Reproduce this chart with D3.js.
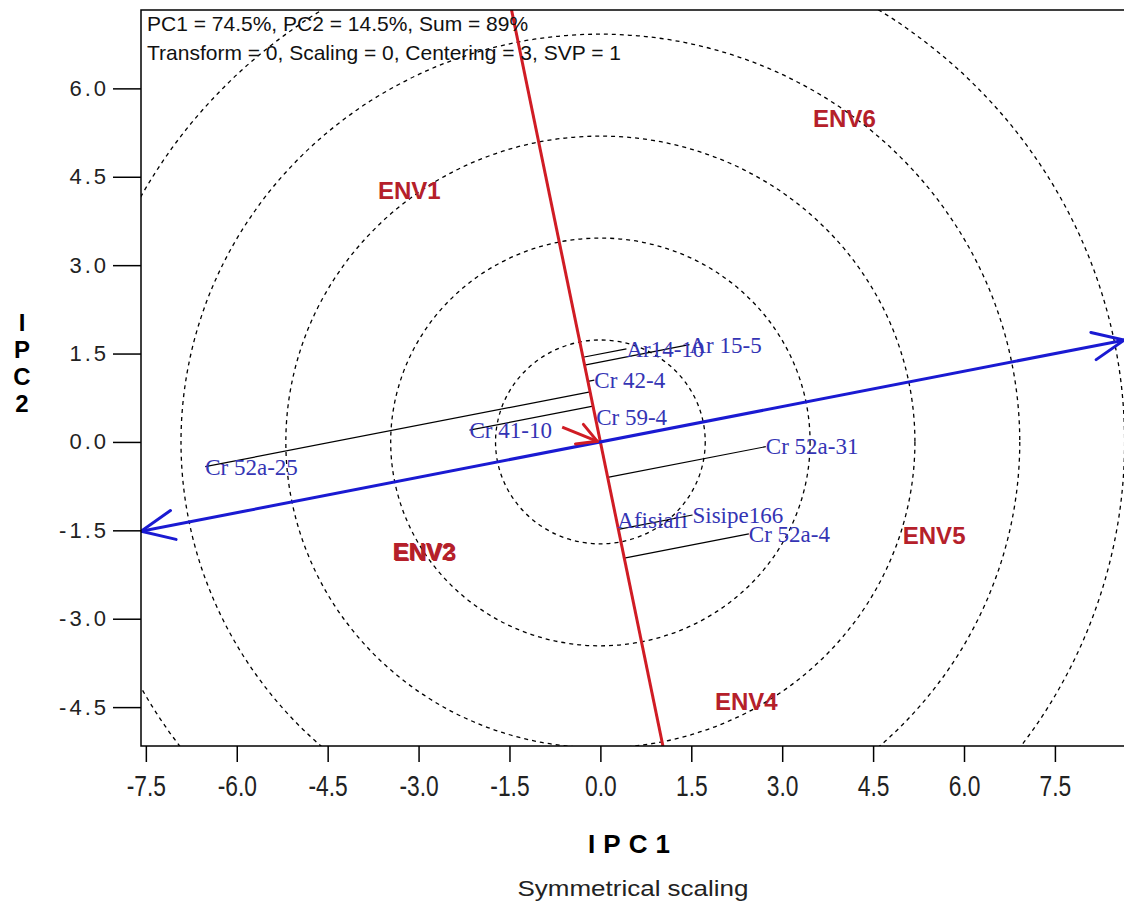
<!DOCTYPE html>
<html>
<head>
<meta charset="utf-8">
<script src="https://cdn.jsdelivr.net/npm/d3@7"></script>
<style>
  body { margin: 0; background: #fff; }
  svg { display: block; }
</style>
</head>
<body>
<div id="chart"></div>
<script>
// ---- data ----
const xTicks = [-7.5, -6, -4.5, -3, -1.5, 0, 1.5, 3, 4.5, 6, 7.5];
const yTicks = [6, 4.5, 3, 1.5, 0, -1.5, -3, -4.5];
const circleRadii = [1.73, 3.46, 5.19, 6.92, 8.65];

const genotypes = ["Cr 52a-25", "Cr 41-10", "Cr 59-4", "Cr 42-4", "Ar14-10", "Ar 15-5", "Cr 52a-31", "Sisipe166", "Afisiafi", "Cr 52a-4"];
const genoX = [-6.52, -2.16, -0.07, -0.10, 0.43, 1.47, 2.73, 1.52, 0.28, 2.45];
const genoY = [-0.42, 0.20, 0.42, 1.05, 1.58, 1.65, -0.08, -1.24, -1.32, -1.56];

const environments = ["ENV1", "ENV2", "ENV3", "ENV4", "ENV5", "ENV6"];
const envX = [-3.67, -3.43, -3.41, 1.89, 4.99, 3.51];
const envY = [4.27, -1.86, -1.87, -4.41, -1.58, 5.49];

// average environment axis (blue) and its ordinate (red), both through origin
const aecSlope = 0.2;
const aecEnds = [-7.58, 8.64];       // x of blue ends
const atcEnds = [7.33, -5.16];       // y of red ends
const aeaArrow = [[-0.63, 0.25], [-0.05, 0.01]];

const headerLines = [
  "PC1 = 74.5%, PC2 = 14.5%, Sum = 89%",
  "Transform = 0, Scaling = 0, Centering = 3, SVP = 1"
];

// ---- layout ----
const W = 1124, H = 907;
const plot = { left: 141, top: 10, right: 1124, bottom: 746 };

const x = d3.scaleLinear().domain([-7.58, 8.64]).range([plot.left, plot.right]);
const y = d3.scaleLinear().domain([-5.16, 7.33]).range([plot.bottom, plot.top]);

const svg = d3.select("#chart").append("svg")
  .attr("width", W).attr("height", H)
  .style("font-family", "Arial, 'Liberation Sans', sans-serif");

svg.append("defs").append("clipPath").attr("id", "clip")
  .append("rect")
  .attr("x", plot.left).attr("y", plot.top)
  .attr("width", plot.right - plot.left).attr("height", plot.bottom - plot.top);

const gPlot = svg.append("g").attr("clip-path", "url(#clip)");

// concentric circles
gPlot.selectAll("ellipse.ring")
  .data(circleRadii)
  .join("ellipse")
  .attr("class", "ring")
  .attr("cx", x(0)).attr("cy", y(0))
  .attr("rx", d => x(d) - x(0))
  .attr("ry", d => y(0) - y(d))
  .attr("fill", "none")
  .attr("stroke", "#000")
  .attr("stroke-width", 1.3)
  .attr("stroke-dasharray", "4,4");

// projection of genotypes on the ordinate (direction perpendicular to blue)
const dirLen = Math.hypot(1, -1 / aecSlope);
const ux = 1 / dirLen, uy = (-1 / aecSlope) / dirLen;
const geno = genotypes.map((name, i) => {
  const px = genoX[i], py = genoY[i];
  const t = px * ux + py * uy;
  return { name, px, py, fx: t * ux, fy: t * uy };
});

gPlot.selectAll("line.proj")
  .data(geno)
  .join("line")
  .attr("class", "proj")
  .attr("x1", d => x(d.px)).attr("y1", d => y(d.py))
  .attr("x2", d => x(d.fx)).attr("y2", d => y(d.fy))
  .attr("stroke", "#000")
  .attr("stroke-width", 1.2);

// arrow helper: open V head
function arrowHead(g, x1, y1, x2, y2, len, ang, color, sw) {
  const a = Math.atan2(y2 - y1, x2 - x1);
  [ang, -ang].forEach(da => {
    g.append("line")
      .attr("x1", x2).attr("y1", y2)
      .attr("x2", x2 - len * Math.cos(a + da))
      .attr("y2", y2 - len * Math.sin(a + da))
      .attr("stroke", color).attr("stroke-width", sw)
      .attr("stroke-linecap", "round");
  });
}

// red ordinate
const redColor = "#d01c24";
const rx1 = x(-atcEnds[0] * aecSlope), ry1 = y(atcEnds[0]);
const rx2 = x(-atcEnds[1] * aecSlope), ry2 = y(atcEnds[1]);
gPlot.append("line")
  .attr("x1", rx1).attr("y1", ry1).attr("x2", rx2).attr("y2", ry2)
  .attr("stroke", redColor).attr("stroke-width", 3);

// blue abscissa with heads both sides
const blue = "#1a1ad2";
const bx1 = x(aecEnds[0]), by1 = y(aecEnds[0] * aecSlope);
const bx2 = x(aecEnds[1]), by2 = y(aecEnds[1] * aecSlope);
gPlot.append("line")
  .attr("x1", bx1).attr("y1", by1).attr("x2", bx2).attr("y2", by2)
  .attr("stroke", blue).attr("stroke-width", 3);
arrowHead(gPlot, bx2, by2, bx1, by1, 36, 0.42, blue, 3);
arrowHead(gPlot, bx1, by1, bx2, by2, 34, 0.42, blue, 3);

// small red arrow toward the origin
const ax1 = x(aeaArrow[0][0]), ay1 = y(aeaArrow[0][1]);
const ax2 = x(aeaArrow[1][0]), ay2 = y(aeaArrow[1][1]);
gPlot.append("line")
  .attr("x1", ax1).attr("y1", ay1).attr("x2", ax2).attr("y2", ay2)
  .attr("stroke", redColor).attr("stroke-width", 3);
arrowHead(gPlot, ax1, ay1, ax2, ay2, 22, 0.5, redColor, 3);

// genotype labels
gPlot.selectAll("text.geno")
  .data(geno)
  .join("text")
  .attr("class", "geno")
  .attr("x", d => x(d.px))
  .attr("y", d => y(d.py))
  .attr("dy", "0.34em")
  .attr("fill", "#3434b4")
  .style("font-family", "'Liberation Serif', 'Times New Roman', serif")
  .style("font-size", "23px")
  .text(d => d.name);

// environment labels
gPlot.selectAll("text.env")
  .data(environments)
  .join("text")
  .attr("class", "env")
  .attr("x", (d, i) => x(envX[i]))
  .attr("y", (d, i) => y(envY[i]))
  .attr("dy", "0.36em")
  .attr("fill", "#b5202a")
  .style("font-size", "24px")
  .style("font-weight", "bold")
  .text(d => d);

// frame
svg.append("rect")
  .attr("x", plot.left).attr("y", plot.top)
  .attr("width", plot.right - plot.left + 10).attr("height", plot.bottom - plot.top)
  .attr("fill", "none").attr("stroke", "#000").attr("stroke-width", 1.5);

// axes
const fmt = d => d.toFixed(1);
const xAxisG = svg.append("g")
  .attr("transform", `translate(0,${plot.bottom})`)
  .call(d3.axisBottom(x).tickValues(xTicks).tickSize(16).tickFormat(fmt));
const yAxisG = svg.append("g")
  .attr("transform", `translate(${plot.left},0)`)
  .call(d3.axisLeft(y).tickValues(yTicks).tickSize(28).tickPadding(4).tickFormat(fmt));

[xAxisG, yAxisG].forEach(g => {
  g.select(".domain").remove();
  g.selectAll("line").attr("stroke", "#000").attr("stroke-width", 1.5);
  g.selectAll("text")
    .attr("fill", "#222")
    .style("font-family", "Arial, 'Liberation Sans', sans-serif");
});
xAxisG.selectAll("text")
  .attr("y", 0).attr("dy", "0.36em")
  .attr("transform", "translate(0,39) scale(0.95,1.25)")
  .style("font-size", "24px");
yAxisG.selectAll("text")
  .style("font-size", "22px")
  .style("letter-spacing", "3px");

// header text
svg.selectAll("text.hdr")
  .data(headerLines)
  .join("text")
  .attr("class", "hdr")
  .attr("x", 147)
  .attr("y", (d, i) => 31 + i * 29)
  .attr("fill", "#111")
  .style("font-size", "21px")
  .text(d => d);

// axis titles
svg.append("text")
  .attr("x", 633).attr("y", 853)
  .attr("text-anchor", "middle")
  .style("font-size", "26px").style("font-weight", "bold")
  .style("letter-spacing", "8px")
  .text("IPC1");

svg.append("g").selectAll("text")
  .data(["I", "P", "C", "2"])
  .join("text")
  .attr("x", 22)
  .attr("y", (d, i) => 331 + i * 27)
  .attr("text-anchor", "middle")
  .style("font-size", "24px").style("font-weight", "bold")
  .text(d => d);

svg.append("text")
  .attr("x", 633).attr("y", 896)
  .attr("text-anchor", "middle")
  .attr("fill", "#222")
  .attr("textLength", 231)
  .attr("lengthAdjust", "spacingAndGlyphs")
  .style("font-size", "22px")
  .text("Symmetrical scaling");
</script>
</body>
</html>
